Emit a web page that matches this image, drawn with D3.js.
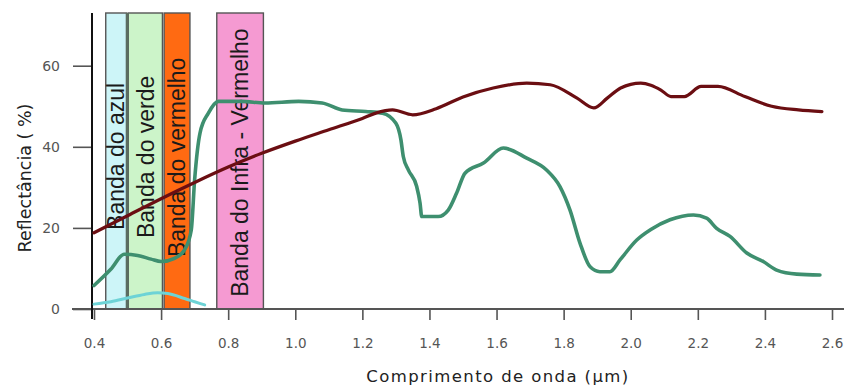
<!DOCTYPE html>
<html>
<head>
<meta charset="utf-8">
<script src="https://cdn.jsdelivr.net/npm/d3@7"></script>
<style>
  html, body { margin: 0; padding: 0; background: #ffffff; }
  svg { display: block; }
</style>
</head>
<body>
<svg id="chart" width="844" height="389"></svg>
<script>
// ---------- data ----------
const xTicks = [0.4, 0.6, 0.8, 1.0, 1.2, 1.4, 1.6, 1.8, 2.0, 2.2, 2.4, 2.6];
const yTicks = [0, 20, 40, 60];

const bandNames = ["Banda do azul", "Banda do verde", "Banda do vermelho", "Banda do Infra - Vermelho"];
const bandStart = [0.435, 0.502, 0.609, 0.766];
const bandEnd   = [0.497, 0.604, 0.686, 0.905];
const bandLabelBase = [19.5, 17.5, 12.8, 3.0];

// soil (dark red)
const soilX = [0.40, 0.50, 0.60, 0.70, 0.80, 0.90, 1.00, 1.10, 1.20, 1.24, 1.29, 1.35, 1.42, 1.50, 1.59, 1.69, 1.76, 1.84, 1.89, 1.93, 1.97, 2.03, 2.06, 2.09, 2.12, 2.16, 2.21, 2.26, 2.34, 2.42, 2.50, 2.57];
const soilY = [18.8, 23.0, 27.2, 31.2, 35.0, 38.4, 41.4, 44.2, 47.0, 48.3, 49.1, 47.9, 49.4, 52.3, 54.5, 55.7, 55.3, 52.0, 49.6, 52.0, 54.5, 55.7, 55.2, 54.0, 52.4, 52.4, 54.9, 54.9, 52.4, 50.0, 49.1, 48.7];

// vegetation (green)
const vegX = [0.40, 0.45, 0.49, 0.53, 0.57, 0.60, 0.64, 0.67, 0.69, 0.70, 0.716, 0.741, 0.771, 0.84, 0.91, 1.01, 1.08, 1.14, 1.21, 1.26, 1.30, 1.315, 1.322, 1.337, 1.362, 1.372, 1.377, 1.426, 1.456, 1.481, 1.506, 1.561, 1.62, 1.69, 1.749, 1.789, 1.819, 1.849, 1.879, 1.908, 1.938, 1.968, 2.018, 2.06, 2.117, 2.187, 2.226, 2.256, 2.296, 2.346, 2.395, 2.435, 2.495, 2.564];
const vegY = [5.8, 9.8, 13.5, 13.2, 12.3, 11.7, 12.5, 14.6, 19.5, 31.9, 43.4, 48.3, 51.2, 51.2, 50.8, 51.2, 50.8, 49.1, 48.7, 48.3, 45.8, 41.7, 37.6, 34.3, 30.2, 26.1, 22.8, 22.8, 24.4, 28.6, 33.5, 36.0, 39.7, 37.2, 34.3, 30.2, 24.4, 16.2, 10.4, 9.2, 9.2, 12.1, 17.0, 19.6, 22.0, 23.2, 22.4, 19.9, 17.9, 13.8, 11.7, 9.6, 8.6, 8.4];

// water (cyan)
const waterX = [0.40, 0.45, 0.50, 0.55, 0.59, 0.62, 0.67, 0.70, 0.73];
const waterY = [1.2, 1.8, 2.7, 3.6, 4.0, 3.8, 2.6, 1.8, 1.0];

// ---------- chart ----------
const svg = d3.select("#chart");
const x = d3.scaleLinear().domain([0.4, 2.6]).range([94, 832]);
const y = d3.scaleLinear().domain([0, 73]).range([309, 13]);

const bandFill = ["#cdf5f8", "#ccf4c9", "#ff6a12", "#f59ad2"];

// bands
const bands = bandNames.map((n, i) => ({ name: n, x0: bandStart[i], x1: bandEnd[i], base: bandLabelBase[i], fill: bandFill[i] }));
svg.append("g").selectAll("rect").data(bands).join("rect")
  .attr("x", d => x(d.x0))
  .attr("y", y(73))
  .attr("width", d => x(d.x1) - x(d.x0))
  .attr("height", y(0) - y(73))
  .attr("fill", d => d.fill)
  .attr("stroke", "#555")
  .attr("stroke-width", 1.4);

// thick divider between blue and green bands
svg.append("line")
  .attr("x1", (x(bandEnd[0]) + x(bandStart[1])) / 2)
  .attr("x2", (x(bandEnd[0]) + x(bandStart[1])) / 2)
  .attr("y1", y(73)).attr("y2", y(0))
  .attr("stroke", "#5b6d60").attr("stroke-width", 3);

// band labels
svg.append("g").selectAll("text").data(bands).join("text")
  .attr("transform", d => `translate(${x((d.x0 + d.x1) / 2)},${y(d.base)}) rotate(-90)`)
  .attr("dy", "0.36em")
  .attr("text-anchor", "start")
  .attr("font-family", "'Liberation Sans', Arial, sans-serif")
  .attr("font-size", 23)
  .attr("fill", "#1a1a1a")
  .text(d => d.name);

// axes
const xAxis = d3.axisBottom(x).tickValues(xTicks).tickFormat(d3.format(".1f")).tickSize(11).tickPadding(18);
const gx = svg.append("g").attr("transform", `translate(0,${y(0)})`).call(xAxis);
gx.select(".domain").remove();
gx.selectAll(".tick line").attr("stroke", "#555").attr("stroke-width", 1.6);
gx.selectAll(".tick text").attr("fill", "#555").attr("font-family", "'DejaVu Sans', Verdana, sans-serif").attr("font-size", 13.5);
svg.append("line").attr("x1", 72).attr("x2", 844).attr("y1", y(0)).attr("y2", y(0))
  .attr("stroke", "#555").attr("stroke-width", 1.8);

const yAxisX = x(0.4) - 2;
const yAxis = d3.axisLeft(y).tickValues(yTicks).tickSize(19).tickPadding(13);
const gy = svg.append("g").attr("transform", `translate(${yAxisX},0)`).call(yAxis);
gy.select(".domain").remove();
gy.selectAll(".tick line").attr("stroke", "#555").attr("stroke-width", 1.6);
gy.selectAll(".tick text").attr("fill", "#555").attr("font-family", "'DejaVu Sans', Verdana, sans-serif").attr("font-size", 14);
svg.append("line").attr("x1", yAxisX).attr("x2", yAxisX).attr("y1", y(73)).attr("y2", y(0) + 10)
  .attr("stroke", "#111").attr("stroke-width", 2);

// curves
const line = d3.line().x(d => x(d[0])).y(d => y(d[1])).curve(d3.curveMonotoneX);
const series = [
  { xs: waterX, ys: waterY, color: "#6dd3d6", w: 3 },
  { xs: vegX, ys: vegY, color: "#3e8f6f", w: 3.6 },
  { xs: soilX, ys: soilY, color: "#6b0e12", w: 3.2 }
];
series.forEach(s => {
  svg.append("path")
    .datum(s.xs.map((v, i) => [v, s.ys[i]]))
    .attr("d", line)
    .attr("fill", "none")
    .attr("stroke", s.color)
    .attr("stroke-width", s.w)
    .attr("stroke-linejoin", "round")
    .attr("stroke-linecap", "round");
});

// titles
svg.append("text")
  .attr("x", 498).attr("y", 382)
  .attr("text-anchor", "middle")
  .attr("font-family", "'DejaVu Sans', Verdana, sans-serif")
  .attr("font-size", 16.5)
  .attr("letter-spacing", 1.4)
  .attr("fill", "#222")
  .text("Comprimento de onda (µm)");

svg.append("text")
  .attr("transform", "translate(25,178) rotate(-90)")
  .attr("dy", "0.36em")
  .attr("text-anchor", "middle")
  .attr("font-family", "'DejaVu Sans', Verdana, sans-serif")
  .attr("font-size", 17.5)
  .attr("fill", "#222")
  .text("Reflectância ( %)");
</script>
</body>
</html>
